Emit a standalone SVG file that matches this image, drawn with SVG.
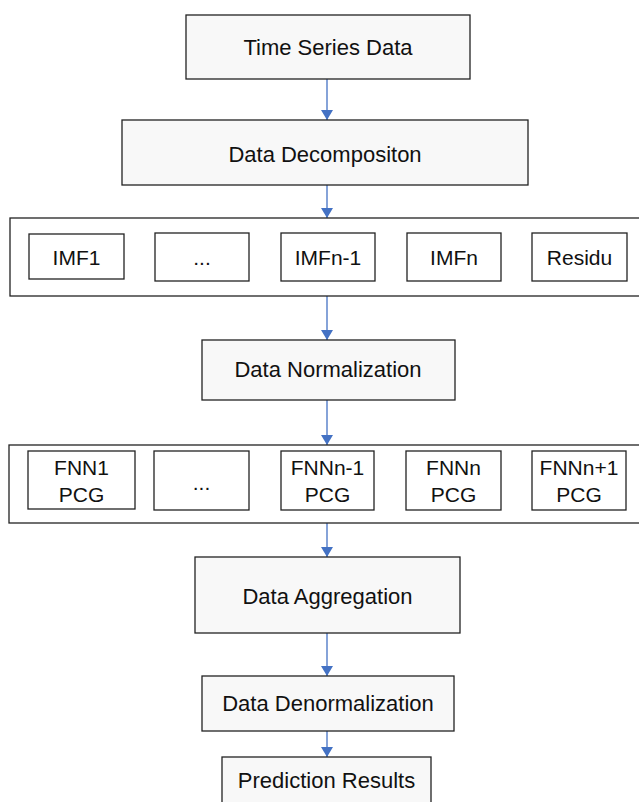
<svg xmlns="http://www.w3.org/2000/svg" width="639" height="802" viewBox="0 0 639 802">
<style>
.box{fill:#f8f8f8;stroke:#222;stroke-width:1.3}
.sub{fill:#fff;stroke:#222;stroke-width:1.3}
.cont{fill:#fff;stroke:#222;stroke-width:1.3}
text{font-family:"Liberation Sans",Arial,sans-serif;font-size:21px;fill:#111;text-anchor:middle;dominant-baseline:central}
.big{font-size:22px}
.c{stroke:#4472c4;stroke-width:1.3;fill:none}
</style>
<defs>
<marker id="ah" markerWidth="10" markerHeight="12" refX="10" refY="6" orient="auto" markerUnits="userSpaceOnUse">
<path d="M0,0 L10,6 L0,12 z" fill="#4472c4"/>
</marker>
</defs>
<rect width="639" height="802" fill="#fff"/>
<g id="connectors">
<path class="c" d="M327,79 V120" marker-end="url(#ah)"/>
<path class="c" d="M327,185 V218" marker-end="url(#ah)"/>
<path class="c" d="M327,296 V340" marker-end="url(#ah)"/>
<path class="c" d="M327,400 V445" marker-end="url(#ah)"/>
<path class="c" d="M327,523 V557" marker-end="url(#ah)"/>
<path class="c" d="M327,633 V676" marker-end="url(#ah)"/>
<path class="c" d="M327,731 V757" marker-end="url(#ah)"/>
</g>
<g id="time-series-data"><rect class="box" x="186" y="15" width="284" height="64"/><text class="big" x="328" y="47">Time Series Data</text></g>
<g id="data-decomposition"><rect class="box" x="122" y="120" width="406" height="65"/><text class="big" x="325" y="154">Data Decompositon</text></g>
<g id="imf-group">
<rect class="cont" x="10" y="218" width="640" height="78"/>
<g id="imf1"><rect class="sub" x="29" y="234" width="95" height="45"/><text x="76.5" y="257">IMF1</text></g>
<g id="imf-dots"><rect class="sub" x="155" y="233" width="94" height="48"/><text x="202" y="257">...</text></g>
<g id="imfn-1"><rect class="sub" x="281" y="233" width="94" height="48"/><text x="328" y="257">IMFn-1</text></g>
<g id="imfn"><rect class="sub" x="407" y="233" width="94" height="48"/><text x="454" y="257">IMFn</text></g>
<g id="residu"><rect class="sub" x="532" y="233" width="95" height="48"/><text x="579.5" y="257">Residu</text></g>
</g>
<g id="data-normalization"><rect class="box" x="202" y="340" width="253" height="60"/><text class="big" x="328" y="369">Data Normalization</text></g>
<g id="fnn-group">
<rect class="cont" x="9" y="445" width="640" height="78"/>
<g id="fnn1"><rect class="sub" x="28" y="451" width="107" height="58"/><text x="81.5" y="467">FNN1</text><text x="81.5" y="494">PCG</text></g>
<g id="fnn-dots"><rect class="sub" x="154" y="451" width="95" height="59"/><text x="201.5" y="482">...</text></g>
<g id="fnnn-1"><rect class="sub" x="281" y="451" width="93" height="59"/><text x="327.5" y="467">FNNn-1</text><text x="327.5" y="494">PCG</text></g>
<g id="fnnn"><rect class="sub" x="406" y="451" width="95" height="59"/><text x="453.5" y="467">FNNn</text><text x="453.5" y="494">PCG</text></g>
<g id="fnnn1"><rect class="sub" x="532" y="451" width="94" height="59"/><text x="579" y="467">FNNn+1</text><text x="579" y="494">PCG</text></g>
</g>
<g id="data-aggregation"><rect class="box" x="195" y="557" width="265" height="76"/><text class="big" x="327.5" y="596">Data Aggregation</text></g>
<g id="data-denormalization"><rect class="box" x="202" y="676" width="252" height="55"/><text class="big" x="328" y="703">Data Denormalization</text></g>
<g id="prediction-results"><rect class="box" x="222" y="757" width="209" height="60"/><text class="big" x="326.5" y="780">Prediction Results</text></g>
</svg>
